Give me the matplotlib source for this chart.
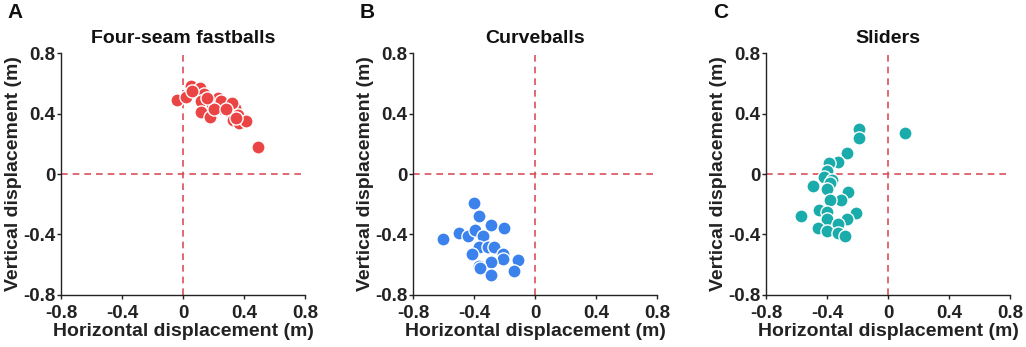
import matplotlib.pyplot as plt
import numpy as np

plt.rcParams['font.family'] = ['Liberation Sans', 'DejaVu Sans']
plt.rcParams['font.weight'] = 'bold'

# ---- Data ----
fast_x = [-0.04, 0.02, 0.05, 0.11, 0.14, 0.12, 0.12, 0.18, 0.19, 0.23, 0.24, 0.29,
          0.31, 0.34, 0.33, 0.36, 0.37, 0.41, 0.49, 0.25, 0.32, 0.35, 0.06, 0.20, 0.28, 0.16]
fast_y = [0.49, 0.51, 0.58, 0.57, 0.53, 0.48, 0.41, 0.38, 0.46, 0.50, 0.44, 0.46,
          0.41, 0.44, 0.36, 0.39, 0.34, 0.35, 0.18, 0.48, 0.47, 0.37, 0.55, 0.43, 0.43, 0.50]

curve_x = [-0.40, -0.37, -0.50, -0.44, -0.39, -0.34, -0.29, -0.20, -0.37, -0.31,
           -0.27, -0.41, -0.21, -0.21, -0.11, -0.29, -0.37, -0.36, -0.29, -0.14, -0.60]
curve_y = [-0.19, -0.28, -0.39, -0.41, -0.37, -0.41, -0.34, -0.36, -0.48, -0.48,
           -0.48, -0.53, -0.53, -0.56, -0.57, -0.58, -0.61, -0.62, -0.67, -0.64, -0.43]

slider_x = [-0.19, -0.19, 0.11, -0.27, -0.33, -0.39, -0.40, -0.42, -0.37, -0.38,
            -0.49, -0.40, -0.26, -0.31, -0.38, -0.57, -0.45, -0.40, -0.21, -0.27,
            -0.40, -0.33, -0.46, -0.40, -0.33, -0.28]
slider_y = [0.30, 0.24, 0.27, 0.14, 0.08, 0.07, 0.02, -0.02, -0.04, -0.06,
            -0.08, -0.10, -0.12, -0.17, -0.17, -0.28, -0.24, -0.25, -0.26, -0.30,
            -0.30, -0.33, -0.36, -0.38, -0.39, -0.41]

panels = [
    ("A", "Four-seam fastballs", fast_x, fast_y, "#ea4444"),
    ("B", "Curveballs", curve_x, curve_y, "#3b82ec"),
    ("C", "Sliders", slider_x, slider_y, "#1aacaa"),
]
lefts = [0.0595, 0.4025, 0.7466]
ticks = [-0.8, -0.4, 0, 0.4, 0.8]
tick_labels = ["-0.8", "-0.4", "0", "0.4", "0.8"]

fig = plt.figure(figsize=(10.26, 3.47), dpi=100)

for (letter, title, xs, ys, col), left in zip(panels, lefts):
    ax = fig.add_axes([left, 0.150, 0.2378, 0.697])
    ax.axhline(0, color="#d9505a", ls=(0, (4, 3)), lw=1.2, zorder=1)
    ax.axvline(0, color="#d9505a", ls=(0, (4, 3)), lw=1.2, zorder=1)
    ax.scatter(xs, ys, s=90, color=col, edgecolor="white", linewidth=1.0, zorder=3)
    ax.set_xlim(-0.8, 0.8)
    ax.set_ylim(-0.8, 0.8)
    ax.set_xticks(ticks)
    ax.set_yticks(ticks)
    ax.set_xticklabels(tick_labels)
    ax.set_yticklabels(tick_labels)
    ax.tick_params(labelsize=13.5, length=3, width=1, colors="#222222")
    ax.tick_params(axis="x", pad=4)
    ax.tick_params(axis="y", pad=1)
    for lab in ax.get_xticklabels() + ax.get_yticklabels():
        lab.set_fontweight("bold")
    for s in ["top", "right"]:
        ax.spines[s].set_visible(False)
    for s in ["left", "bottom"]:
        ax.spines[s].set_linewidth(1.0)
        ax.spines[s].set_color("#222222")
    ax.set_xlabel("Horizontal displacement (m)", fontsize=14, fontweight="bold",
                  labelpad=1, color="#222222")
    ax.set_ylabel("Vertical displacement (m)", fontsize=14, fontweight="bold",
                  labelpad=1, color="#222222")
    ax.set_title(title, fontsize=14, fontweight="bold", pad=7, color="#111111")
    fig.text(left - 0.052, 0.99, letter, fontsize=15, fontweight="bold",
             va="top", ha="left", color="#111111")

fig.savefig("out.png", dpi=100)
